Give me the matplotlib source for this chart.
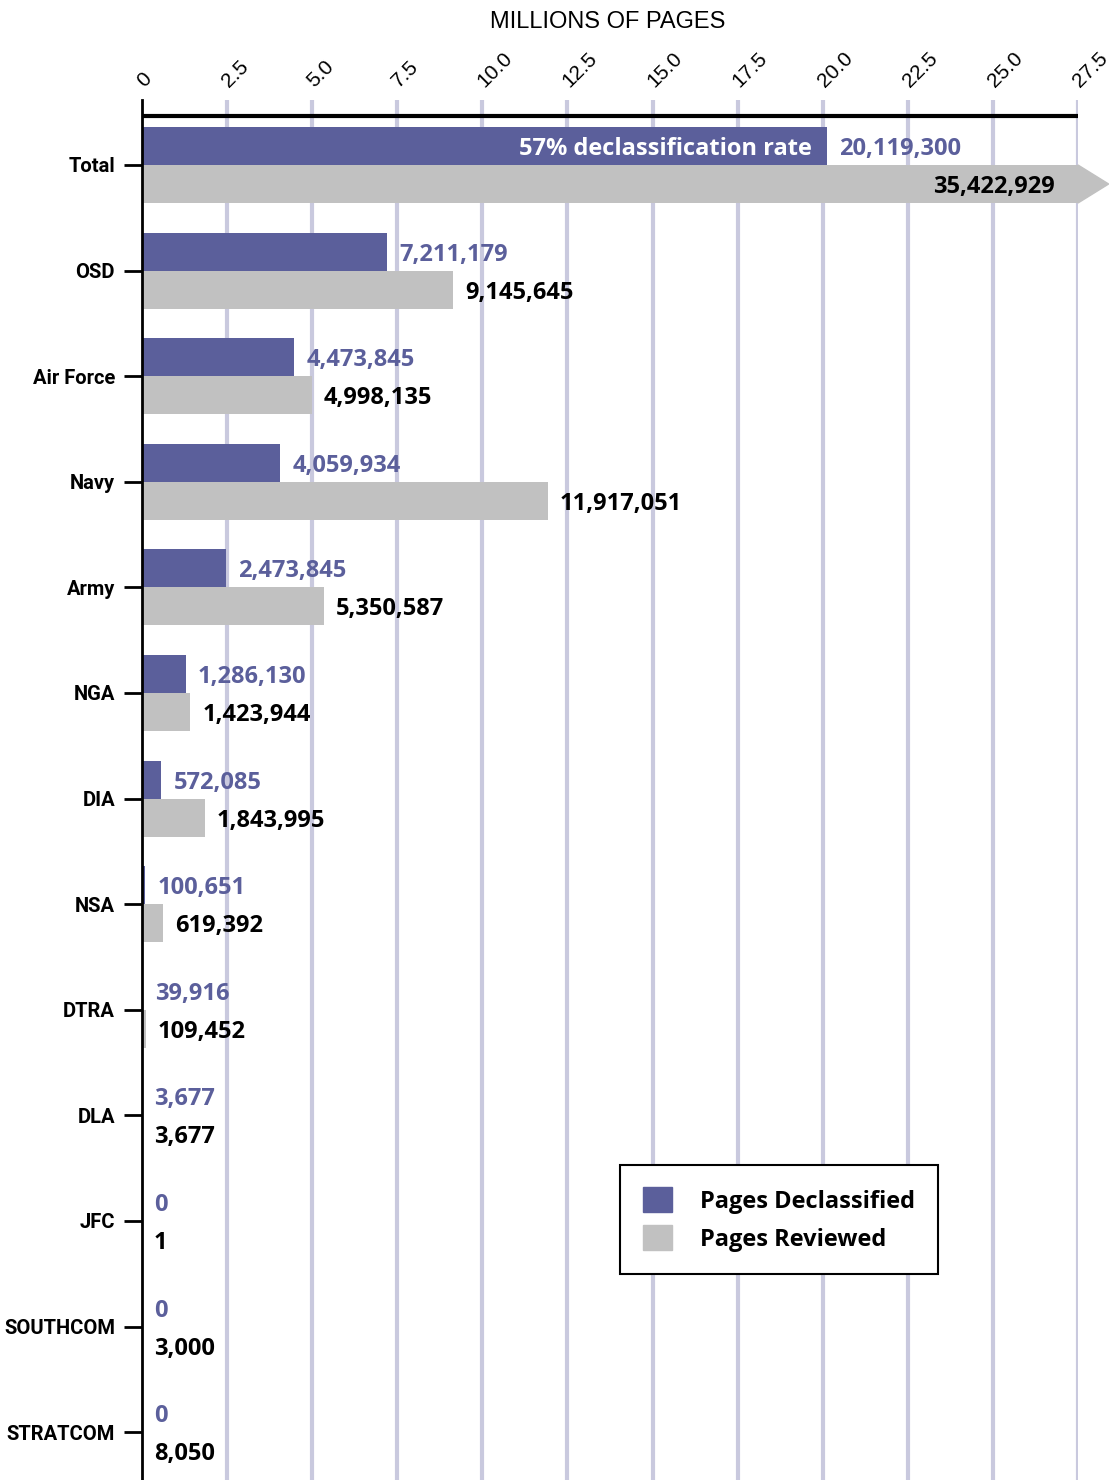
import matplotlib
matplotlib.use('Agg')
import matplotlib.pyplot as plt
from matplotlib.patches import Polygon, Patch
from matplotlib.transforms import offset_copy, blended_transform_factory

# data (pages)
categories = ['Total', 'OSD', 'Air Force', 'Navy', 'Army', 'NGA', 'DIA', 'NSA',
              'DTRA', 'DLA', 'JFC', 'SOUTHCOM', 'STRATCOM']
declassified = [20119300, 7211179, 4473845, 4059934, 2473845, 1286130, 572085,
                100651, 39916, 3677, 0, 0, 0]
reviewed = [35422929, 9145645, 4998135, 11917051, 5350587, 1423944, 1843995,
            619392, 109452, 3677, 1, 3000, 8050]
x_ticks = [0, 2.5, 5.0, 7.5, 10.0, 12.5, 15.0, 17.5, 20.0, 22.5, 25.0, 27.5]
x_tick_labels = ['0', '2.5', '5.0', '7.5', '10.0', '12.5', '15.0', '17.5',
                 '20.0', '22.5', '25.0', '27.5']

BLUE = '#5b5f9b'
GREY = '#c1c1c1'
GRID = '#c9c9de'
VAL_FONT = dict(family='Open Sans', weight='bold', size=17)

fig = plt.figure(figsize=(11.11, 14.8), dpi=100)
ax = fig.add_axes([142/1111, 0, 936/1111, 1380/1480])
xmax = x_ticks[-1]
ax.set_xlim(0, xmax)
ax.set_ylim(12.453, -0.6155)
h = 0.36

dec_m = [v / 1e6 for v in declassified]
rev_m = [v / 1e6 for v in reviewed]
ys = list(range(len(categories)))

# grid lines
for x in x_ticks[1:]:
    ax.axvline(x, color=GRID, lw=3, zorder=0)

# bars
ax.barh([y - h/2 for y in ys], dec_m, height=h, color=BLUE, zorder=2)
capped = [min(v, xmax) for v in rev_m]
ax.barh([y + h/2 for y in ys], capped, height=h, color=GREY, zorder=2)

# arrow head for bars running off the scale
for y, v in zip(ys, rev_m):
    if v > xmax:
        tip = xmax + 0.9
        ax.add_patch(Polygon([(xmax, y), (tip, y + h/2), (xmax, y + h)],
                             closed=True, color=GREY, clip_on=False, zorder=2))

# top axis line
ax.axhline(-0.464, color='black', lw=3, zorder=3)

# value labels
right = offset_copy(ax.transData, fig=fig, x=12, y=-3, units='dots')
for y, d, r, dv, rv in zip(ys, declassified, reviewed, dec_m, rev_m):
    ax.text(dv, y - h/2, f'{d:,}', transform=right, color=BLUE,
            ha='left', va='center', zorder=4, **VAL_FONT)
    if rv <= xmax:
        ax.text(rv, y + h/2, f'{r:,}', transform=right, color='black',
                ha='left', va='center', zorder=4, **VAL_FONT)
    else:
        inside = offset_copy(ax.transData, fig=fig, x=-23, y=-3, units='dots')
        ax.text(xmax, y + h/2, f'{r:,}', transform=inside, color='black',
                ha='right', va='center', zorder=4, **VAL_FONT)

# declassification rate in the total bar
rate = round(100 * declassified[0] / reviewed[0])
inside_bar = offset_copy(ax.transData, fig=fig, x=-15, y=-3, units='dots')
ax.text(dec_m[0], -h/2, f'{rate}% declassification rate', transform=inside_bar,
        color='white', ha='right', va='center', zorder=4, **VAL_FONT)

# spines and ticks
for s in ['top', 'right', 'bottom']:
    ax.spines[s].set_visible(False)
ax.spines['left'].set_linewidth(2)
ax.spines['left'].set_zorder(5)
ax.set_xticks(x_ticks)
ax.tick_params(axis='x', length=0, labelbottom=False, labeltop=False)
ax.set_yticks(ys)
ax.set_yticklabels(categories, fontfamily='Roboto', fontweight='bold', fontsize=14.5)
ax.tick_params(axis='y', length=13, width=2, color='black', pad=6.5)

# rotated top tick labels
tick_tr = offset_copy(blended_transform_factory(ax.transData, ax.transAxes),
                      fig=fig, x=2, y=12, units='dots')
for x, lab in zip(x_ticks, x_tick_labels):
    ax.text(x, 1.0, lab, transform=tick_tr, rotation=45, rotation_mode='anchor',
            ha='left', va='baseline', fontsize=15, family='Liberation Sans',
            clip_on=False)

fig.text(608/1111, 1 - 22/1480, 'MILLIONS OF PAGES', ha='center', va='center',
         fontsize=17, family='Liberation Sans')

# legend
leg = fig.legend(handles=[Patch(color=BLUE, label='Pages Declassified'),
                          Patch(color=GREY, label='Pages Reviewed')],
                 loc='center', bbox_to_anchor=(779/1111, 1 - 1219.5/1480),
                 prop=dict(family='Open Sans', weight='bold', size=17),
                 fancybox=False, edgecolor='black', framealpha=1,
                 handlelength=1.25, handleheight=1.25, handletextpad=1.2,
                 borderpad=0.95, labelspacing=0.5)
leg.get_frame().set_linewidth(1.5)

fig.savefig('out.png', dpi=100)
